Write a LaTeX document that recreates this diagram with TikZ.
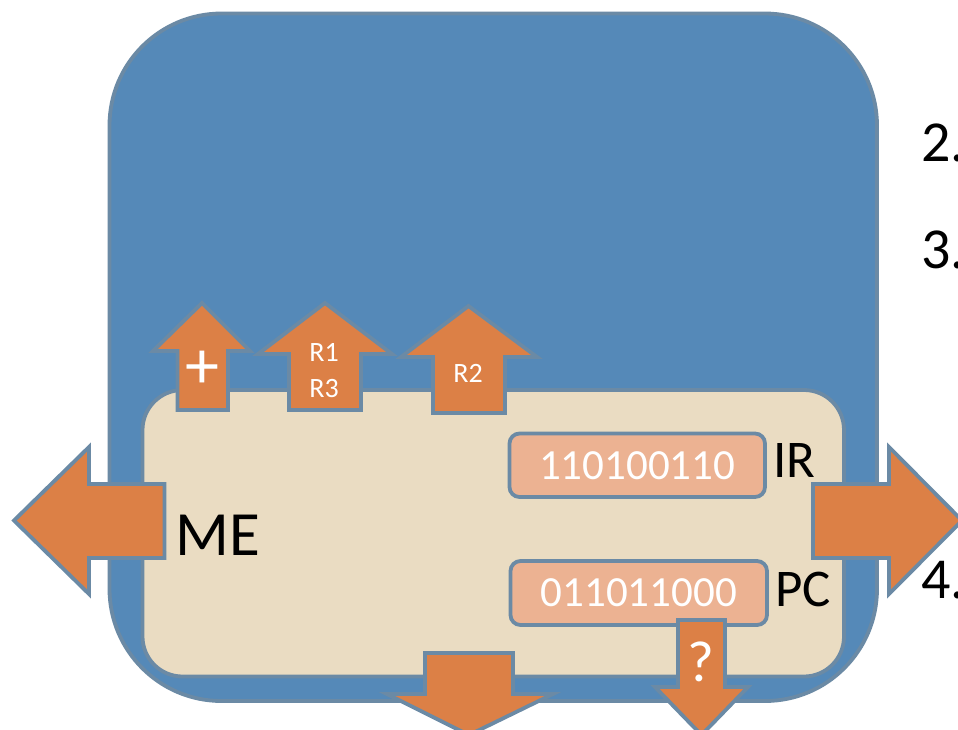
\documentclass[tikz,border=0pt]{standalone}
\usepackage{fontspec}
\setmainfont{Carlito}
\definecolor{blueB}{HTML}{5589B8}
\definecolor{edgeC}{HTML}{6B8AA5}
\definecolor{beigeB}{HTML}{EADCC2}
\definecolor{orangeA}{HTML}{DC8046}
\definecolor{regB}{HTML}{ECB292}
\tikzset{
  shapeline/.style={draw=edgeC,line width=3.8pt,line join=miter},
  arrowshape/.style={shapeline,fill=orangeA,miter limit=10},
  regbox/.style={shapeline,fill=regB,rounded corners=10pt},
  blacktext/.style={text=black,inner sep=0pt,anchor=west},
  whitetext/.style={text=white,inner sep=0pt}
}
\newcommand{\fs}[1]{\fontsize{#1}{#1}\selectfont}
\begin{document}
\begin{tikzpicture}[x=1pt,y=-1pt]
\useasboundingbox (0,0) rectangle (958,729);
\clip (0,0) rectangle (958,729);
\fill[white] (0,0) rectangle (958,729);
% outer and inner panels
\draw[shapeline,fill=blueB,rounded corners=112pt] (109.5,13.5) rectangle (877,701);
\draw[shapeline,fill=beigeB,rounded corners=40pt] (142.5,390) rectangle (844,676.5);
% side texts
\node[blacktext] (two) at (921,143) {\fs{58}2.};
\node[blacktext] (three) at (921,250) {\fs{58}3.};
\node[blacktext] (four) at (921,580) {\fs{58}4.};
% up arrows
\draw[arrowshape] (202,303) -- (250,351) -- (228,351) -- (228,410) -- (177.5,410) -- (177.5,351) -- (153,351) -- cycle;
\draw[arrowshape] (325,303) -- (392,354) -- (361,354) -- (361,410) -- (289,410) -- (289,354) -- (258,354) -- cycle;
\draw[arrowshape] (468.5,306) -- (537,357) -- (505,357) -- (505,413) -- (433,413) -- (433,357) -- (401,357) -- cycle;
% side arrows
\draw[arrowshape] (14,520.5) -- (89,447) -- (89,484) -- (164.5,484) -- (164.5,558) -- (89,558) -- (89,594) -- cycle;
% registers
\draw[regbox] (509.5,433.5) rectangle (765,497) node[pos=.5,whitetext] (ir) {\fs{43}110100110};
\draw[regbox] (510.5,561) rectangle (767,625) node[pos=.5,whitetext] (pc) {\fs{43}011011000};
\draw[arrowshape] (813,484) -- (889,484) -- (889,447) -- (962,520.5) -- (889,594) -- (889,558) -- (813,558) -- cycle;
% down arrows
\draw[arrowshape] (425,653) -- (513,653) -- (513,694) -- (553,694) -- (469,735) -- (387,694) -- (425,694) -- cycle;
\draw[arrowshape] (678,620) -- (725,620) -- (725,687) -- (748,687) -- (701.5,735) -- (655,687) -- (678,687) -- cycle;
% labels
\node[whitetext] (plus) at (202,370) {\fs{68}+};
\node[whitetext] (rone) at (324,352) {\fs{28}R1};
\node[whitetext] (rthree) at (324,389) {\fs{28}R3};
\node[whitetext] (rtwo) at (468,373) {\fs{28}R2};
\node[whitetext] (qm) at (701,662) {\fs{58}?};
\node[blacktext] (me) at (175,535) {\fs{63}ME};
\node[blacktext] (irl) at (773,460) {\fs{53}IR};
\node[blacktext] (pcl) at (775,589) {\fs{53}PC};
\end{tikzpicture}
\end{document}
